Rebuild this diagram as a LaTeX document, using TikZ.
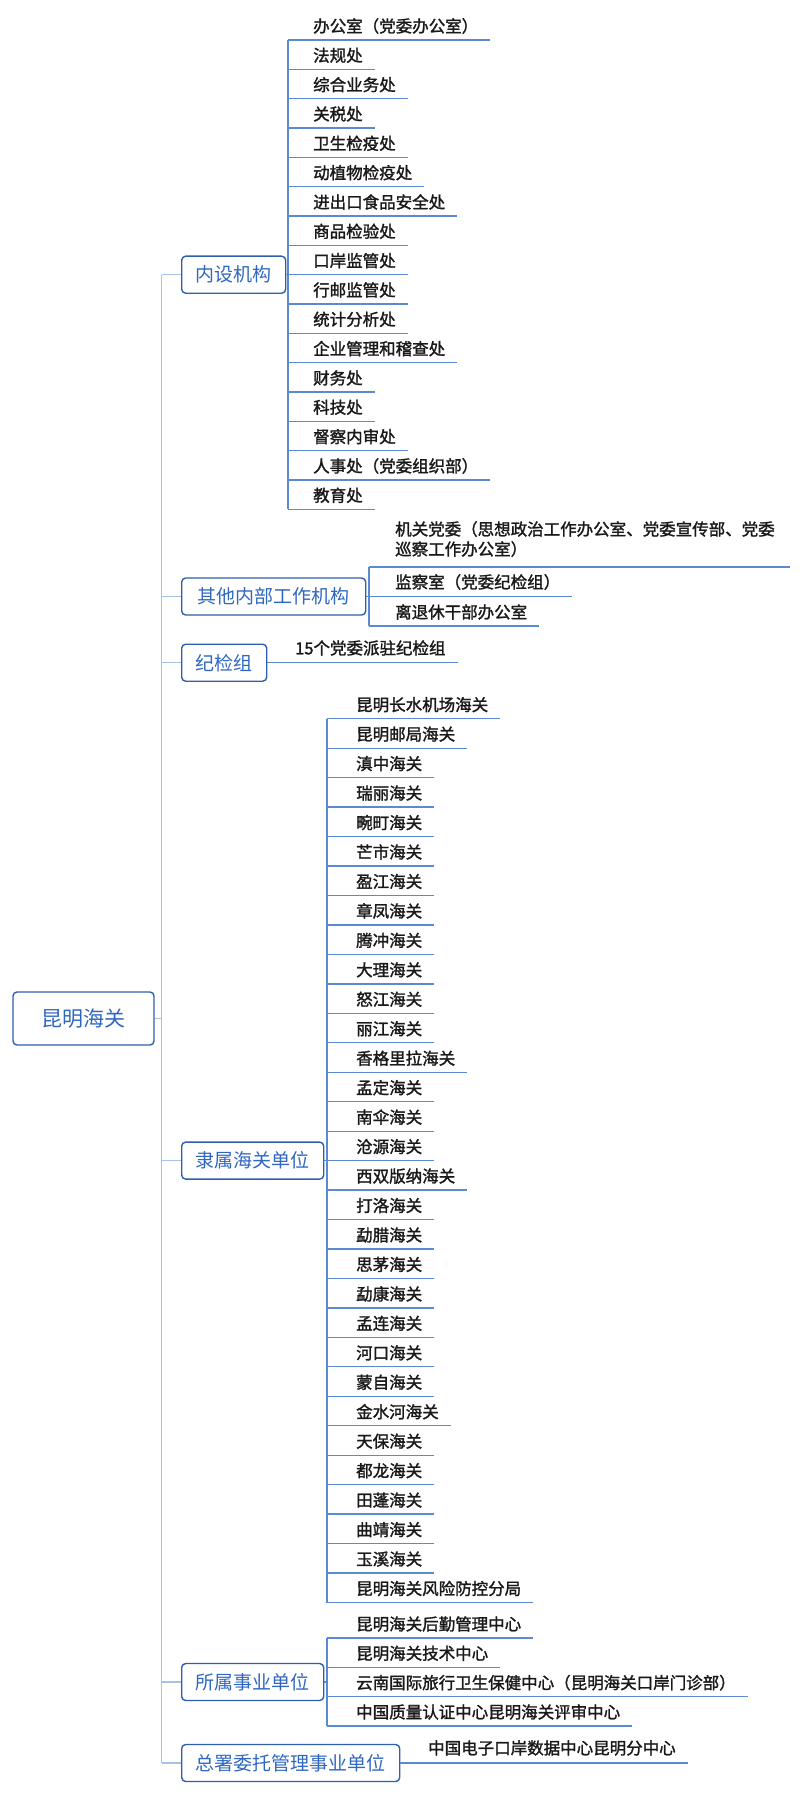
\documentclass[tikz,border=0pt]{standalone}
\usepackage{fontspec}
\newfontfamily\cjk{Noto Sans CJK SC}
\newfontfamily\cjkb{Noto Sans CJK SC}[FakeBold=1.6]
\definecolor{boxc}{HTML}{2E5FAF}
\definecolor{boxt}{HTML}{2F67C0}
\definecolor{trunk}{HTML}{A8C2E6}
\definecolor{ul}{HTML}{5A8AD0}
\begin{document}
\begin{tikzpicture}[x=1pt,y=-1pt,
  box/.style={draw=boxc,line width=1.4pt,rounded corners=4pt,text=boxt,inner xsep=12pt,minimum height=37pt,font=\cjk\fontsize{19}{22}\selectfont,anchor=west},
  leaf/.style={inner sep=0pt,anchor=west,text=black!90,font=\cjkb\fontsize{16.5}{20}\selectfont},
  uline/.style={draw=ul,line width=1.3pt},
  tline/.style={draw=trunk,line width=1.2pt}]
\useasboundingbox (0,0) rectangle (800,1795);
% root
\node[box,anchor=center,minimum width=141pt,minimum height=53pt,font=\cjk\fontsize{21}{24}\selectfont] (root) at (83.5,1018.5) {昆明海关};
\coordinate (ttop) at (161.7,274.7);
\coordinate (tbot) at (161.7,1763);
\draw[tline] (ttop) -- (tbot);
\draw[tline] (root.east) -- (root.east -| ttop);
% level 1
\node[box,minimum width=104pt] (b1) at (181,274.7) {内设机构};
\node[box,minimum width=184pt] (b2) at (181,596.5) {其他内部工作机构};
\node[box,minimum width=85pt] (b3) at (181,662.7) {纪检组};
\node[box,minimum width=142pt] (b4) at (181,1160.6) {隶属海关单位};
\node[box,minimum width=142pt] (b5) at (181,1682) {所属事业单位};
\node[box,minimum width=218pt] (b6) at (181,1763) {总署委托管理事业单位};
\foreach \b in {b1,b2,b3,b4,b5,b6}{\draw[tline] (\b.west -| ttop) -- (\b.west);}
% 内设机构
\coordinate (v1a) at (288,40); \coordinate (v1b) at (288,509.3);
\draw[uline] (v1a) -- (v1b);
\draw[uline] (b1.east) -- (b1.east -| v1a);
\foreach \t [count=\i] in {办公室（党委办公室）,法规处,综合业务处,关税处,卫生检疫处,动植物检疫处,进出口食品安全处,商品检验处,口岸监管处,行邮监管处,统计分析处,企业管理和稽查处,财务处,科技处,督察内审处,人事处（党委组织部）,教育处}{
  \pgfmathsetmacro\ly{40+(\i-1)*29.33}
  \node[leaf] (n\i) at (313,\ly-14) {\t};
  \coordinate (e\i) at ([xshift=12pt]n\i.east |- 0,\ly);
  \draw[uline] (288,\ly) -- (e\i);
}
% 其他内部工作机构
\coordinate (v2a) at (369,567); \coordinate (v2b) at (369,626);
\draw[uline] (v2a) -- (v2b);
\draw[uline] (b2.east) -- (b2.east -| v2a);
\node[leaf,anchor=north west,align=left] (o1) at (395,521) {机关党委（思想政治工作办公室、党委宣传部、党委\\巡察工作办公室）};
\coordinate (o1e) at (790,567);
\draw[uline] (v2a) -- (o1e);
\node[leaf] (o2) at (395,582) {监察室（党委纪检组）};
\draw[uline] (369,596.5) -- ([xshift=12pt]o2.east |- 0,596.5);
\node[leaf] (o3) at (395,612) {离退休干部办公室};
\draw[uline] (v2b) -- ([xshift=12pt]o3.east |- 0,626);
% 纪检组
\node[leaf] (j1) at (295,648) {15个党委派驻纪检组};
\draw[uline] (b3.east) -- ([xshift=12pt]j1.east |- 0,662.7);
% 隶属海关单位
\coordinate (v4a) at (327,718.7); \coordinate (v4b) at (327,1602.5);
\draw[uline] (v4a) -- (v4b);
\draw[uline] (b4.east) -- (b4.east -| v4a);
\foreach \t [count=\i] in {昆明长水机场海关,昆明邮局海关,滇中海关,瑞丽海关,畹町海关,芒市海关,盈江海关,章凤海关,腾冲海关,大理海关,怒江海关,丽江海关,香格里拉海关,孟定海关,南伞海关,沧源海关,西双版纳海关,打洛海关,勐腊海关,思茅海关,勐康海关,孟连海关,河口海关,蒙自海关,金水河海关,天保海关,都龙海关,田蓬海关,曲靖海关,玉溪海关,昆明海关风险防控分局}{
  \pgfmathsetmacro\ly{718.7+(\i-1)*29.46}
  \node[leaf] (h\i) at (356,\ly-14) {\t};
  \draw[uline] (327,\ly) -- ([xshift=12pt]h\i.east |- 0,\ly);
}
% 所属事业单位
\coordinate (v5a) at (327,1638); \coordinate (v5b) at (327,1726);
\draw[uline] (v5a) -- (v5b);
\draw[uline] (b5.east) -- (b5.east -| v5a);
\foreach \t [count=\i] in {昆明海关后勤管理中心,昆明海关技术中心,云南国际旅行卫生保健中心（昆明海关口岸门诊部）,中国质量认证中心昆明海关评审中心}{
  \pgfmathsetmacro\ly{1638+(\i-1)*29.33}
  \node[leaf] (s\i) at (356,\ly-14) {\t};
  \draw[uline] (327,\ly) -- ([xshift=12pt]s\i.east |- 0,\ly);
}
% 总署
\node[leaf] (z1) at (428,1748) {中国电子口岸数据中心昆明分中心};
\draw[uline] (b6.east) -- ([xshift=12pt]z1.east |- 0,1763);
\end{tikzpicture}
\end{document}
